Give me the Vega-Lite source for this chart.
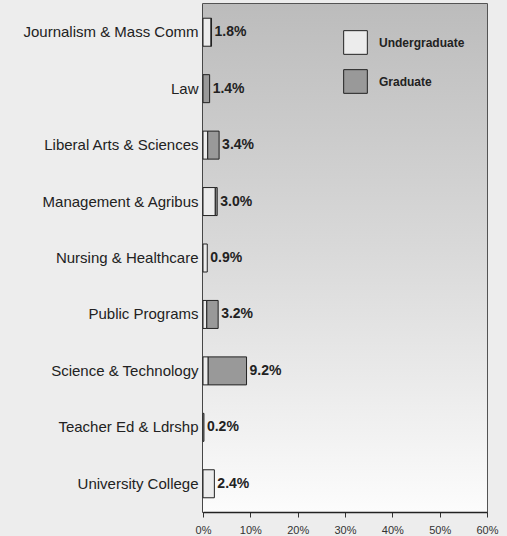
{
  "$schema": "https://vega.github.io/schema/vega-lite/v6.json",
  "width": 284,
  "height": 508,
  "autosize": {"type": "none"},
  "padding": {"left": 203, "top": 4, "right": 20, "bottom": 24},
  "background": "#ededed",
  "datasets": {
    "parts": [
      {"college": "Journalism & Mass Comm", "level": "Undergraduate", "pct": 1.7},
      {"college": "Journalism & Mass Comm", "level": "Graduate", "pct": 0.1},
      {"college": "Law", "level": "Graduate", "pct": 1.4},
      {"college": "Liberal Arts & Sciences", "level": "Undergraduate", "pct": 1.0},
      {"college": "Liberal Arts & Sciences", "level": "Graduate", "pct": 2.4},
      {"college": "Management & Agribus", "level": "Undergraduate", "pct": 2.6},
      {"college": "Management & Agribus", "level": "Graduate", "pct": 0.4},
      {"college": "Nursing & Healthcare", "level": "Undergraduate", "pct": 0.9},
      {"college": "Public Programs", "level": "Undergraduate", "pct": 0.8},
      {"college": "Public Programs", "level": "Graduate", "pct": 2.4},
      {"college": "Science & Technology", "level": "Undergraduate", "pct": 1.1},
      {"college": "Science & Technology", "level": "Graduate", "pct": 8.1},
      {"college": "Teacher Ed & Ldrshp", "level": "Undergraduate", "pct": 0.2},
      {"college": "University College", "level": "Undergraduate", "pct": 2.4}
    ],
    "totals": [
      {"college": "Journalism & Mass Comm", "total": 1.8, "label": "1.8%"},
      {"college": "Law", "total": 1.4, "label": "1.4%"},
      {"college": "Liberal Arts & Sciences", "total": 3.4, "label": "3.4%"},
      {"college": "Management & Agribus", "total": 3.0, "label": "3.0%"},
      {"college": "Nursing & Healthcare", "total": 0.9, "label": "0.9%"},
      {"college": "Public Programs", "total": 3.2, "label": "3.2%"},
      {"college": "Science & Technology", "total": 9.2, "label": "9.2%"},
      {"college": "Teacher Ed & Ldrshp", "total": 0.2, "label": "0.2%"},
      {"college": "University College", "total": 2.4, "label": "2.4%"}
    ]
  },
  "layer": [
    {
      "data": {"values": [{}]},
      "mark": {
        "type": "rect",
        "fill": {
          "gradient": "linear", "x1": 0, "y1": 0, "x2": 0, "y2": 1,
          "stops": [
            {"offset": 0, "color": "#bcbcbc"},
            {"offset": 0.5, "color": "#dadada"},
            {"offset": 1, "color": "#fcfcfc"}
          ]
        }
      },
      "encoding": {
        "x": {"datum": 0, "type": "quantitative", "scale": {"domain": [0, 60]}},
        "x2": {"datum": 60}
      }
    },
    {
      "data": {"name": "parts"},
      "mark": {"type": "bar", "size": 28, "stroke": "#222", "strokeWidth": 1},
      "encoding": {
        "y": {"field": "college", "type": "nominal", "sort": null, "axis": {"title": null}},
        "x": {
          "field": "pct", "type": "quantitative", "stack": "zero", "scale": {"domain": [0, 60]},
          "axis": {"title": null, "values": [0, 10, 20, 30, 40, 50, 60], "labelExpr": "datum.value + '%'", "grid": false, "domain": true, "domainColor": "#222", "domainWidth": 1.5, "ticks": true, "tickSize": 5, "tickColor": "#333", "tickWidth": 1, "labelPadding": 7, "labelFontSize": 11, "labelFont": "Liberation Sans", "labelColor": "#333", "labelFlush": false, "zindex": 2}
        },
        "order": {"field": "level", "sort": "descending"},
        "color": {
          "field": "level", "type": "nominal",
          "scale": {"domain": ["Undergraduate", "Graduate"], "range": ["#ececec", "#999999"]},
          "legend": {
            "title": null, "orient": "none", "legendX": 140, "legendY": 26,
            "symbolType": "square", "symbolSize": 560, "symbolStrokeColor": "#222",
            "symbolStrokeWidth": 1, "symbolOpacity": 1,
            "labelFontWeight": "bold", "labelFontSize": 12, "labelColor": "#222",
            "labelFont": "Liberation Sans", "labelOffset": 11, "rowPadding": 10, "padding": 0
          }
        }
      }
    },
    {
      "data": {"name": "totals"},
      "mark": {"type": "text", "align": "left", "baseline": "middle", "dx": 3, "fontWeight": "bold", "fontSize": 14, "font": "Liberation Sans", "color": "#222"},
      "encoding": {
        "y": {"field": "college", "type": "nominal", "sort": null},
        "x": {"field": "total", "type": "quantitative"},
        "text": {"field": "label"}
      }
    }
  ],
  "config": {
    "view": {"stroke": "#222", "strokeWidth": 1.5},
    "axisY": {"ticks": false, "labelFontSize": 15, "labelFont": "Liberation Sans", "labelColor": "#222", "labelPadding": 5, "domainColor": "#222", "domainWidth": 1.5, "labelLimit": 300, "zindex": 1}
  }
}
